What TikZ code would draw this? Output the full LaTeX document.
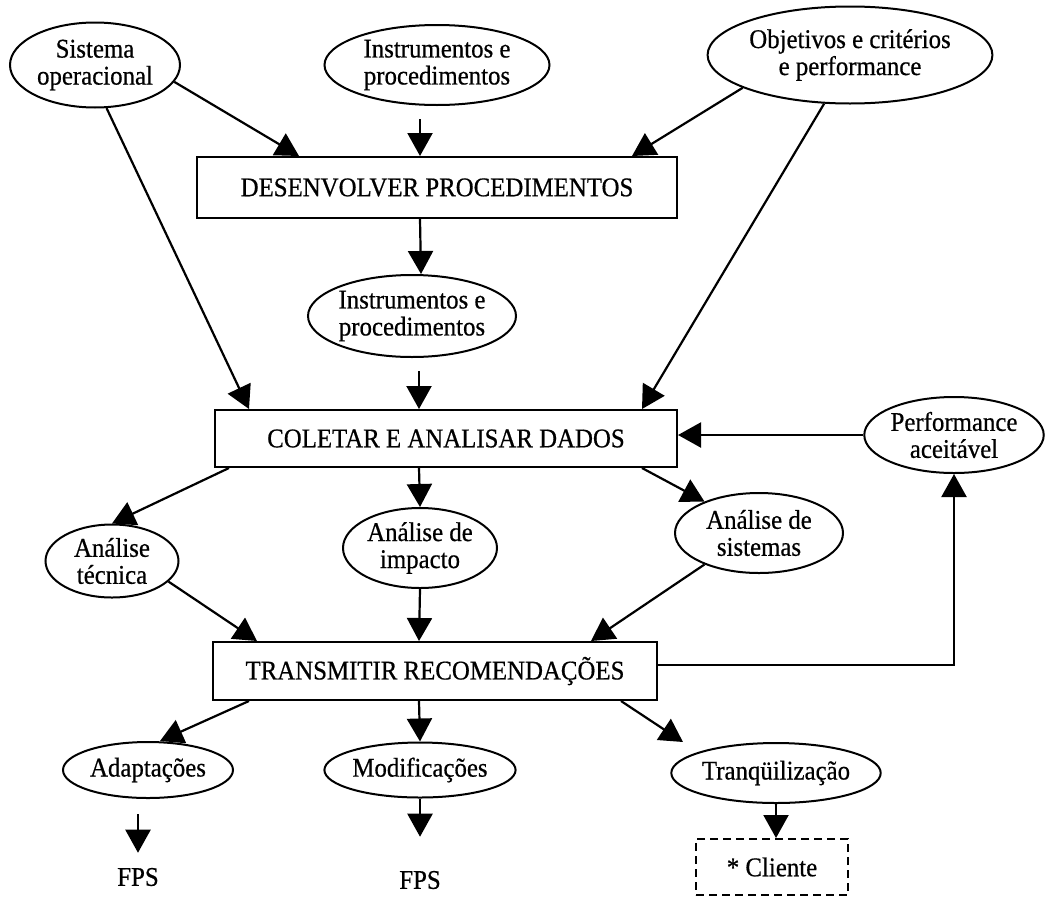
\documentclass[tikz,border=0pt]{standalone}
\usepackage{fontspec}
\setmainfont{Liberation Serif}[FakeStretch=0.92,FakeBold=0.6]
\usetikzlibrary{arrows.meta,shapes.geometric}
\begin{document}
\begin{tikzpicture}[x=1pt,y=-1pt,
  every node/.style={font=\fontsize{27}{27}\selectfont},
  oval/.style={draw, line width=2pt, ellipse, inner sep=0pt, align=center},
  stepbox/.style={draw, line width=2pt, rectangle, inner sep=0pt},
  plain/.style={inner sep=0pt},
  dbox/.style={draw, line width=2pt, dash pattern=on 8pt off 5pt, rectangle, inner sep=0pt},
  arr/.style={line width=2.2pt, -{Triangle[length=23pt,width=25pt]}}]
\path[use as bounding box] (0,0) rectangle (1064,897);

% inputs
\node[oval, minimum width=170pt, minimum height=85pt] (sis) at (95,65) {Sistema\\operacional};
\node[oval, minimum width=225pt, minimum height=80pt] (inst1) at (437,65) {Instrumentos e\\procedimentos};
\node[oval, minimum width=251pt, minimum height=97pt] (obj) at (850,55) {Objetivos e critérios\\e performance};

% process steps
\node[stepbox, minimum width=480pt, minimum height=61pt] (desenv) at (437,187.5) {DESENVOLVER PROCEDIMENTOS};
\node[oval, minimum width=208pt, minimum height=82pt] (inst2) at (412,316) {Instrumentos e\\procedimentos};
\node[stepbox, minimum width=462pt, minimum height=57pt] (coletar) at (446,438.5) {COLETAR E ANALISAR DADOS};
\node[oval, minimum width=176pt, minimum height=76pt] (perf) at (954,435) {Performance\\aceitável};

% analyses
\node[oval, minimum width=133pt, minimum height=73pt] (tecnica) at (112,561) {Análise\\técnica};
\node[oval, minimum width=154pt, minimum height=80pt] (impacto) at (420,548) {Análise de\\impacto};
\node[oval, minimum width=168pt, minimum height=80pt] (sistemas) at (759,533) {Análise de\\sistemas};

\node[stepbox, minimum width=444pt, minimum height=58pt] (transm) at (435,671) {TRANSMITIR RECOMENDAÇÕES};

% outcomes
\node[oval, minimum width=170pt, minimum height=56pt] (adapt) at (148,770) {Adaptações};
\node[oval, minimum width=187pt, minimum height=55pt] (modif) at (420,770) {Modificações};
\node[oval, minimum width=204pt, minimum height=60pt] (tranq) at (776,773) {Tranqüilização};
\node[plain] (fps1) at (138,877) {FPS};
\node[plain] (fps2) at (420,880) {FPS};
\node[dbox, minimum width=152pt, minimum height=56pt] (cliente) at (772,867) {* Cliente};

% connectors
\draw[arr] (sis.-12) -- ([xshift=103pt]desenv.north west);
\draw[arr] ([yshift=37pt,xshift=224pt]desenv.north west) -- ([xshift=224pt]desenv.north west);
\draw[arr] (obj.197) -- ([xshift=436pt]desenv.north west);
\draw[arr] (sis.-75) -- ([xshift=35pt]coletar.north west);
\draw[arr] (obj.242) -- ([xshift=428pt]coletar.north west);
\draw[arr] ([xshift=224pt]desenv.south west) -- ([xshift=9pt]inst2.north);
\draw[arr] ([yshift=38pt,xshift=205pt]coletar.north west) -- ([xshift=205pt]coletar.north west);
\draw[arr] (perf.west) -- (perf.west -| coletar.east);

\draw[arr] ([xshift=15pt]coletar.south west) -- (tecnica.north);
\draw[arr] ([xshift=205pt]coletar.south west) -- (impacto.north);
\draw[arr] ([xshift=428pt]coletar.south west) -- (sistemas.150);

\draw[arr] (tecnica.-20) -- ([xshift=45pt]transm.north west);
\draw[arr] (impacto.south) -- ([xshift=207pt]transm.north west);
\draw[arr] (sistemas.210) -- ([xshift=379pt]transm.north west);
\draw[arr] ([yshift=6pt]transm.east) -| (perf.south);

\draw[arr] ([xshift=37pt]transm.south west) -- ([xshift=12pt]adapt.north);
\draw[arr] ([xshift=207pt]transm.south west) -- (modif.north);
\draw[arr] ([xshift=409pt]transm.south west) -- ([xshift=-93pt]tranq.north);

\draw[arr] ([xshift=-10pt,yshift=-15pt]adapt.south) -- ([yshift=15pt]fps1.north);
\draw[arr] (modif.south) -- ([yshift=34pt]fps2.north);
\draw[arr] (tranq.south) -- (tranq.south |- cliente.north);
\end{tikzpicture}
\end{document}
